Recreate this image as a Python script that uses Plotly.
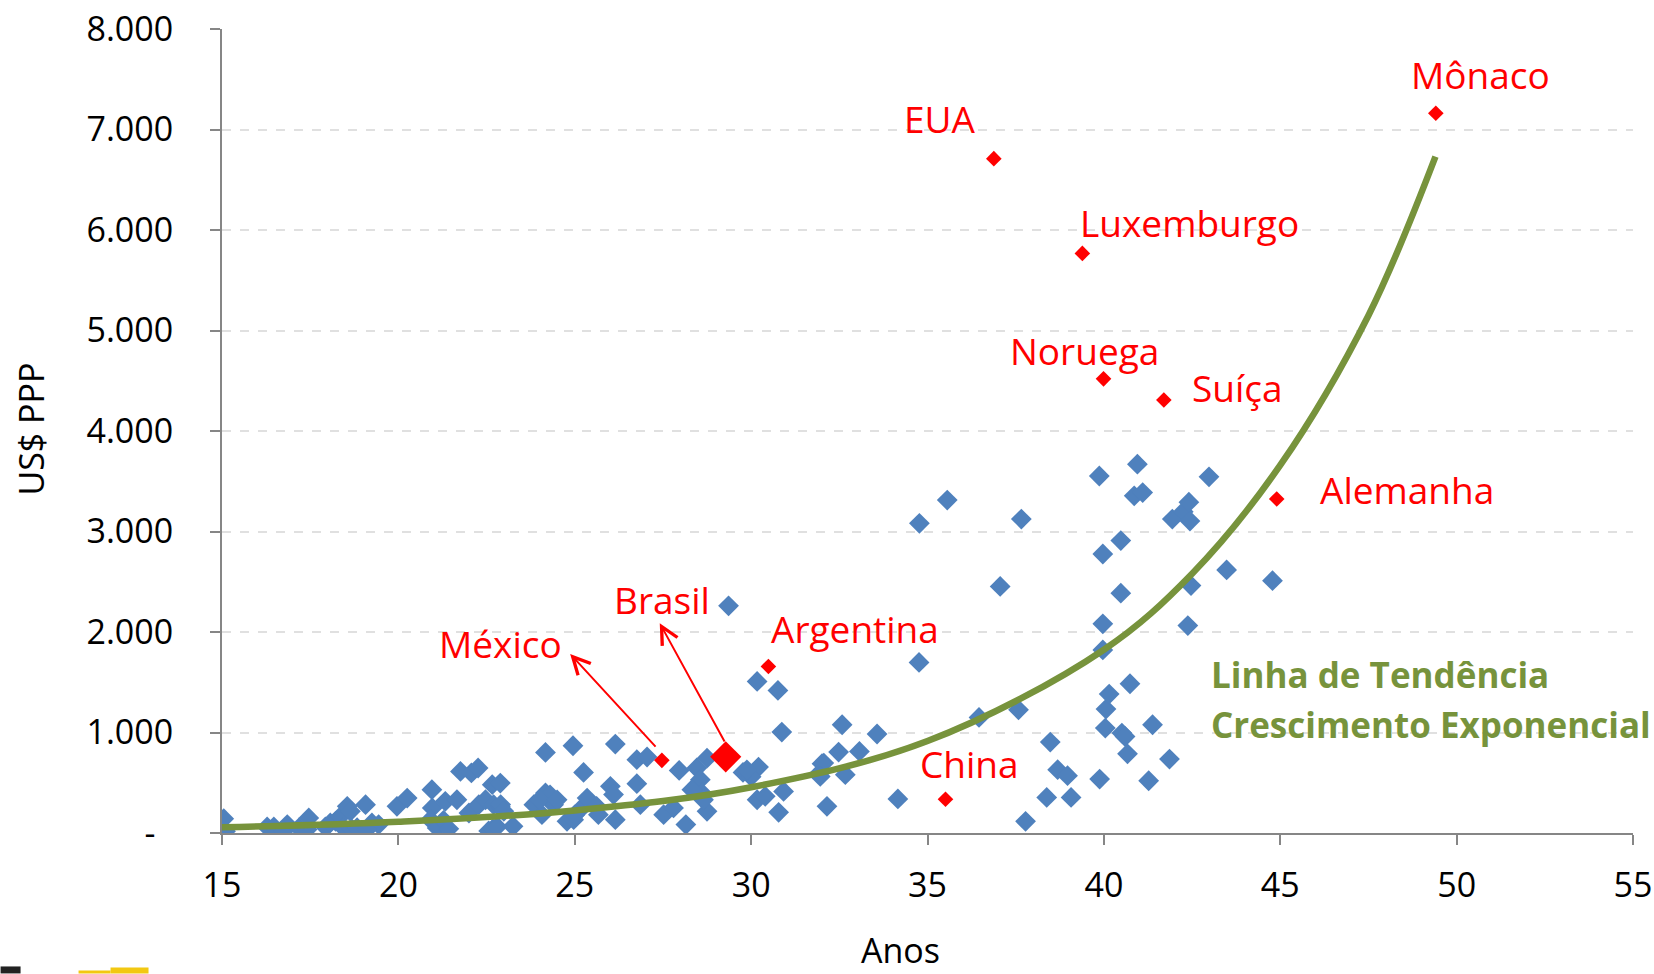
import plotly.graph_objects as go

# ---- Data ----
blue_age = [15.05, 15.1, 16.28, 16.47, 16.85, 16.75, 17.18, 17.46, 17.41, 17.93, 18.07, 18.22, 18.36, 18.55, 18.64,
            18.44, 18.68, 18.83, 19.07, 19.25, 19.44, 19.11, 19.96, 20.25, 20.95, 21.76, 22.07, 22.26, 22.66, 20.96,
            21.33, 21.66, 20.91, 21.1, 21.28, 21.43, 22.0, 22.28, 22.47, 22.7, 22.89, 22.56, 22.68, 22.8,
            22.9, 22.99, 22.89, 23.25, 23.84, 24.07, 24.17, 24.3, 24.4, 24.17, 24.95, 26.15, 25.25, 24.78, 24.97,
            25.2, 25.35, 25.62, 25.67, 26.01, 26.1, 26.15, 26.76, 26.86, 26.76, 27.05, 24.0, 24.5, 25.0,
            27.96, 28.46, 28.75, 28.56, 29.77, 30.21, 30.17, 30.76, 30.87, 30.92, 30.78, 30.17, 30.4, 28.75, 28.15,
            27.52, 27.8, 28.6, 29.36, 30.0, 28.32, 28.65, 29.88,
            31.95, 32.58, 33.57, 32.48, 33.07, 32.06, 32.67, 32.15, 32.01, 31.96, 34.16, 34.76, 34.77, 35.56,
            36.46, 37.58, 37.78, 37.06, 37.66, 38.48, 38.69, 38.97, 38.38, 39.07, 39.88, 39.87, 39.97, 39.97, 39.97,
            40.04, 40.06, 40.15, 40.51, 40.6, 40.67, 40.74, 40.48, 40.48, 40.95, 40.86, 41.1, 41.27, 41.38, 41.86,
            41.94, 42.25, 42.44, 42.41, 42.98, 42.47, 42.38, 43.48, 44.78]
blue_val = [143, 17, 60, 60, 84, 20, 50, 150, 34, 60, 100, 116, 166, 265, 216,
            52, 42, 52, 282, 100, 84, 34, 265, 348, 431, 613, 598, 647, 481, 250,
            315, 331, 133, 50, 126, 42, 199, 282, 331, 282, 265, 21, 42, 63,
            283, 216, 497, 66, 282, 182, 398, 380, 282, 802, 868, 885, 603, 116, 133,
            250, 348, 265, 182, 464, 382, 133, 491, 282, 730, 756, 330, 330, 180,
            623, 647, 745, 531, 603, 656, 1508, 1419, 1004, 414, 206, 331, 365, 216, 84,
            182, 250, 400, 2260, 560, 431, 331, 629,
            600, 1077, 985, 805, 812, 696, 580, 265, 690, 563, 339, 1697, 3081, 3313,
            1150, 1226, 116, 2453, 3124, 905, 630, 570, 354, 354, 537, 3552, 2776, 2081, 1822,
            1044, 1233, 1382, 994, 960, 788, 1485, 2910, 2386, 3670, 3355, 3387, 520, 1077, 736,
            3124, 3197, 3104, 3292, 3544, 2462, 2064, 2618, 2511]

red_names = ["Mônaco", "EUA", "Luxemburgo", "Noruega", "Suíça", "Alemanha", "Argentina", "China", "México"]
red_age = [49.41, 36.88, 39.39, 39.99, 41.70, 44.90, 30.49, 35.51, 27.47]
red_val = [7161, 6710, 5767, 4519, 4309, 3324, 1657, 336, 723]

brasil_age = [29.28]
brasil_val = [758]

trend_age = [15, 20, 25, 30, 35, 40, 42.5, 45, 47.5, 49.4]
trend_val = [56, 112, 224, 455, 915, 1824, 2580, 3660, 5150, 6730]

# label centre positions (data coords)
label_text = ["Mônaco", "EUA", "Luxemburgo", "Noruega", "Suíça", "Alemanha", "Argentina", "China", "México", "Brasil"]
label_age = [50.67, 35.36, 42.44, 39.45, 43.79, 48.60, 32.94, 36.20, 22.89, 27.47]
label_val = [7549, 7109, 6071, 4802, 4435, 3418, 2034, 692, 1887, 2328]

x_ticks = [15, 20, 25, 30, 35, 40, 45, 50, 55]
y_ticks = [0, 1000, 2000, 3000, 4000, 5000, 6000, 7000, 8000]
y_ticktext = ["-\u00a0\u00a0", "1.000", "2.000", "3.000", "4.000", "5.000", "6.000", "7.000", "8.000"]

FONT = "Open Sans, Calibri, sans-serif"
BLUE = "#4F81BD"
RED = "#FF0000"
GREEN = "#77933C"

W, H = 1654, 974
ML, MR, MT, MB = 221.5, 21, 28.5, 140.6
PW, PH = W - ML - MR, H - MT - MB


def px_to_paper(px, py):
    return (px - ML) / PW, (H - MB - py) / PH


fig = go.Figure()
fig.add_trace(go.Scatter(x=blue_age, y=blue_val, mode="markers",
                         marker=dict(symbol="diamond", size=16, color=BLUE, line=dict(width=0)),
                         showlegend=False, hoverinfo="skip"))
fig.add_trace(go.Scatter(x=trend_age, y=trend_val, mode="lines",
                         line=dict(color=GREEN, width=6.5, shape="spline", smoothing=1.0),
                         showlegend=False, hoverinfo="skip"))
fig.add_trace(go.Scatter(x=red_age, y=red_val, mode="markers",
                         marker=dict(symbol="diamond", size=12, color=RED, line=dict(width=0)),
                         showlegend=False, hoverinfo="skip"))
fig.add_trace(go.Scatter(x=brasil_age, y=brasil_val, mode="markers",
                         marker=dict(symbol="diamond", size=24, color=RED, line=dict(width=0)),
                         showlegend=False, hoverinfo="skip"))

annotations = []
for t, a, v in zip(label_text, label_age, label_val):
    annotations.append(dict(x=a, y=v, xref="x", yref="y", text=t, showarrow=False,
                            font=dict(family=FONT, size=37, color=RED),
                            xanchor="center", yanchor="middle"))
# arrows (México, Brasil)
annotations.append(dict(x=24.87, y=1782, ax=27.33, ay=845, xref="x", yref="y", axref="x", ayref="y",
                        text="", showarrow=True, arrowhead=5, arrowsize=1.7, arrowwidth=2, arrowcolor=RED))
annotations.append(dict(x=27.41, y=2088, ax=29.27, ay=895, xref="x", yref="y", axref="x", ayref="y",
                        text="", showarrow=True, arrowhead=5, arrowsize=1.7, arrowwidth=2, arrowcolor=RED))
# trend text
annotations.append(dict(x=42.98, y=1580, xref="x", yref="y", text="<b>Linha de Tendência</b>", showarrow=False,
                        font=dict(family=FONT, size=35, color=GREEN), xanchor="left", yanchor="middle"))
annotations.append(dict(x=42.98, y=1077, xref="x", yref="y", text="<b>Crescimento Exponencial</b>", showarrow=False,
                        font=dict(family=FONT, size=35, color=GREEN), xanchor="left", yanchor="middle"))
# axis titles
xp, yp = px_to_paper(30, 429)
annotations.append(dict(x=xp, y=yp, xref="paper", yref="paper", text="US$ PPP", textangle=-90,
                        showarrow=False, font=dict(family=FONT, size=34, color="black"),
                        xanchor="center", yanchor="middle"))
xp, yp = px_to_paper(900, 951)
annotations.append(dict(x=xp, y=yp, xref="paper", yref="paper", text="Anos",
                        showarrow=False, font=dict(family=FONT, size=34, color="black"),
                        xanchor="center", yanchor="middle"))

fig.update_layout(
    width=W, height=H, autosize=False,
    paper_bgcolor="white", plot_bgcolor="white",
    margin=dict(l=ML, r=MR, t=MT, b=MB, autoexpand=False),
    annotations=annotations,
    font=dict(family=FONT, size=34, color="black"),
    xaxis=dict(range=[15, 55], tickvals=x_ticks, ticktext=[str(v) for v in x_ticks],
               showgrid=False, zeroline=False, showline=True, linecolor="#868686", linewidth=2,
               ticks="outside", ticklen=10, tickwidth=2, tickcolor="#868686",
               tickfont=dict(family=FONT, size=34, color="black"), ticklabelstandoff=11),
    yaxis=dict(range=[0, 8000], tickvals=y_ticks, ticktext=y_ticktext,
               showgrid=True, gridcolor="#E0E0E0", griddash="dash", gridwidth=1.5,
               zeroline=False, showline=True, linecolor="#868686", linewidth=2,
               ticks="outside", ticklen=10, tickwidth=2, tickcolor="#868686",
               tickfont=dict(family=FONT, size=34, color="black"), ticklabelstandoff=30),
)

# small cut-off logo pieces at bottom-left
for (x0, x1, y0, y1, col) in [(0, 20, 974, 967, "#222222"), (78, 110, 974, 971, "#F2C811"),
                              (110, 148, 974, 968, "#F2C811")]:
    a0, b0 = px_to_paper(x0, y0)
    a1, b1 = px_to_paper(x1, y1)
    fig.add_shape(type="rect", xref="paper", yref="paper", x0=a0, x1=a1, y0=b0, y1=b1,
                  fillcolor=col, line=dict(width=0))

fig.write_html("out.html", config={"displayModeBar": False},
               post_script="document.body.style.margin='0';document.body.style.overflow='hidden';")
